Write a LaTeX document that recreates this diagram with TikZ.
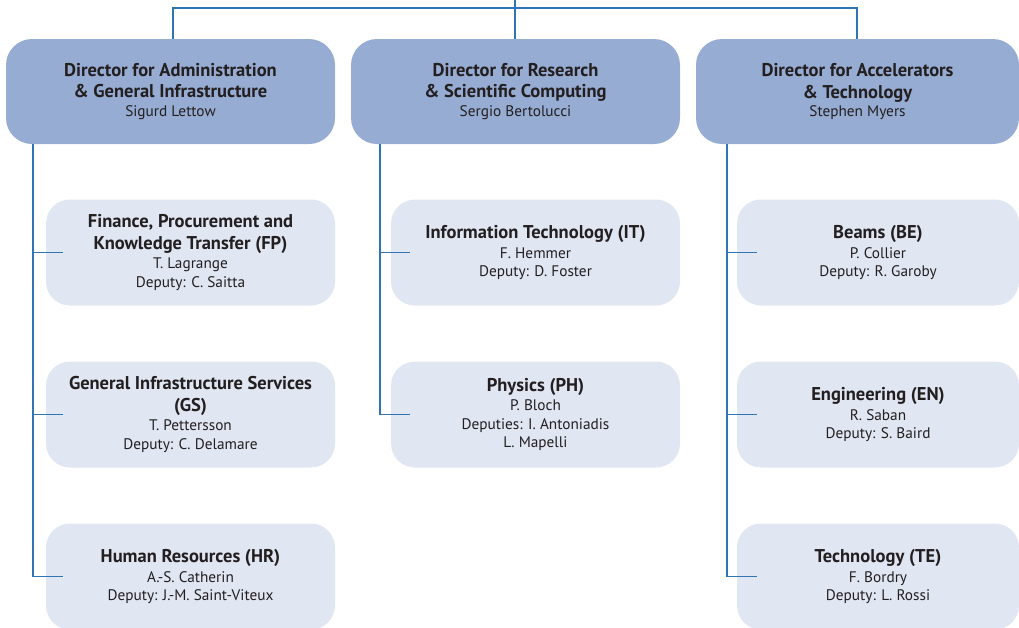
\documentclass[tikz,border=0pt]{standalone}
\usepackage{fontspec}
\setmainfont{PT Sans}
\definecolor{dirfill}{HTML}{97ACD3}
\definecolor{unitfill}{HTML}{E0E6F2}
\definecolor{linkblue}{HTML}{2F74B5}
\definecolor{inkdark}{HTML}{231F20}
\newcommand{\namefont}{\fontsize{15.3}{19}\selectfont\mdseries}
\tikzset{
  director/.style={fill=dirfill, rounded corners=26pt, minimum width=329pt,
    minimum height=105pt, inner sep=0pt, text=inkdark, align=center,
    font=\fontsize{18.5}{21.5}\selectfont\bfseries},
  unit/.style={fill=unitfill, rounded corners=24pt, minimum width=289pt,
    minimum height=106pt, inner sep=0pt, text=inkdark, align=center,
    font=\fontsize{18.5}{21.5}\selectfont\bfseries},
  link/.style={draw=linkblue, line width=1.3pt},
}
\begin{document}
\begin{tikzpicture}[x=1pt,y=-1pt]
\useasboundingbox (0,0) rectangle (1019,627);
% directors
\node[director] (dA) at (170.5,91.5) {Director for Administration\\ \& General Infrastructure\\[-3pt]\namefont Sigurd Lettow};
\node[director] (dB) at (515.5,91.5) {Director for Research\\ \& Scientific Computing\\[-3pt]\namefont Sergio Bertolucci};
\node[director, minimum width=323pt] (dC) at (857.5,91.5) {Director for Accelerators\\ \& Technology\\[-3pt]\namefont Stephen Myers};
% departments, administration
\node[unit] (fp) at (190.5,252.5) {Finance, Procurement and\\ Knowledge Transfer (FP)\\[-2pt]\namefont T. Lagrange\\[-3pt] \namefont Deputy: C. Saitta};
\node[unit] (gs) at (190.5,414.5) {General Infrastructure Services\\ (GS)\\[-2pt]\namefont T. Pettersson\\[-3pt] \namefont Deputy: C. Delamare};
\node[unit] (hr) at (190.5,576.5) {Human Resources (HR)\\[-2pt]\namefont A.-S. Catherin\\[-3pt] \namefont Deputy: J.-M. Saint-Viteux};
% departments, research
\node[unit] (it) at (535.5,252.5) {Information Technology (IT)\\[-2pt]\namefont F. Hemmer\\[-3pt] \namefont Deputy: D. Foster};
\node[unit] (ph) at (535.5,414.5) {Physics (PH)\\[-2pt]\namefont P. Bloch\\[-3pt] \namefont Deputies: I. Antoniadis\\[-3pt] \namefont L. Mapelli};
% departments, accelerators
\node[unit, minimum width=282pt] (be) at (878,252.5) {Beams (BE)\\[-2pt]\namefont P. Collier\\[-3pt] \namefont Deputy: R. Garoby};
\node[unit, minimum width=282pt] (eng) at (878,414.5) {Engineering (EN)\\[-2pt]\namefont R. Saban\\[-3pt] \namefont Deputy: S. Baird};
\node[unit, minimum width=282pt] (te) at (878,576.5) {Technology (TE)\\[-2pt]\namefont F. Bordry\\[-3pt] \namefont Deputy: L. Rossi};
% top bar
\coordinate (topin) at (515,0);
\coordinate (barA) at (173,8);
\coordinate (barC) at (857,8);
\draw[link] (barA |- dA.north) -- (barA) -- (barC) -- (barC |- dC.north);
\draw[link] (topin) -- (topin |- dB.north);
% trunks and branches
\coordinate (tA) at (33,0);
\coordinate (tB) at (380,0);
\coordinate (tC) at (727,0);
\draw[link] (tA |- dA.south) |- ([xshift=17pt]hr.west);
\draw[link] (tA |- fp.west) -- ([xshift=17pt]fp.west);
\draw[link] (tA |- gs.west) -- ([xshift=17pt]gs.west);
\draw[link] (tB |- dB.south) |- ([xshift=19pt]ph.west);
\draw[link] (tB |- it.west) -- ([xshift=19pt]it.west);
\draw[link] (tC |- dC.south) |- ([xshift=20pt]te.west);
\draw[link] (tC |- be.west) -- ([xshift=20pt]be.west);
\draw[link] (tC |- eng.west) -- ([xshift=20pt]eng.west);
\end{tikzpicture}
\end{document}
